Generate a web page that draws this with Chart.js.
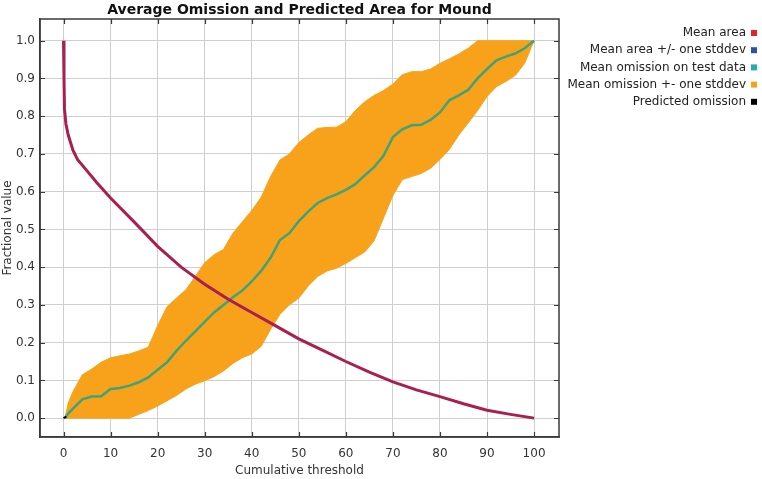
<!DOCTYPE html>
<html lang="en">
<head>
<meta charset="UTF-8">
<title>Average Omission and Predicted Area for Mound</title>
<script src="https://cdn.jsdelivr.net/npm/chart.js"></script>
<style>
    body { margin: 0; background: #ffffff; }
    .wrap { width: 762px; height: 479px; }
</style>
</head>
<body>
<div class="wrap"><canvas id="omissionChart"></canvas></div>
<script>
// tick values
const xTicks = [0, 10, 20, 30, 40, 50, 60, 70, 80, 90, 100];
const yTicks = [0, 0.1, 0.2, 0.3, 0.4, 0.5, 0.6, 0.7, 0.8, 0.9, 1.0];

// mean area (red curve)
const areaX = [0, 0.1, 0.2, 0.5, 1, 2, 3, 5, 7, 10, 15, 20, 25, 30, 35, 40, 45, 50, 55, 60, 65, 70, 75, 80, 85, 90, 95, 100];
const areaY = [1.0, 0.9, 0.82, 0.78, 0.75, 0.71, 0.685, 0.655, 0.625, 0.583, 0.52, 0.455, 0.40, 0.355, 0.315, 0.28, 0.245, 0.21, 0.18, 0.15, 0.122, 0.096, 0.075, 0.057, 0.038, 0.021, 0.01, 0.0];

// omission on test data and its +- one stddev band
const omitX = [0.3, 1, 2, 4, 6, 8, 10, 12, 14, 16, 18, 20, 22, 24, 26, 28, 30, 32, 34, 36, 38, 40, 42, 44, 46, 48, 50,
               52, 54, 56, 58, 60, 62, 64, 66, 68, 70, 72, 74, 76, 78, 80, 82, 84, 86, 88, 90, 92, 94, 96, 98, 100];
const omitMean = [0, 0.012, 0.025, 0.05, 0.057, 0.058, 0.077, 0.08, 0.086, 0.095, 0.108, 0.128, 0.148, 0.178, 0.205, 0.23, 0.255,
                  0.28, 0.30, 0.32, 0.338, 0.362, 0.39, 0.425, 0.472, 0.49, 0.522, 0.547, 0.57, 0.583, 0.593, 0.605, 0.62, 0.643,
                  0.665, 0.695, 0.745, 0.765, 0.776, 0.777, 0.79, 0.81, 0.842, 0.855, 0.87, 0.9, 0.925, 0.948, 0.958, 0.966, 0.98, 1.0];
const omitUpper = [0, 0.04, 0.07, 0.115, 0.13, 0.148, 0.16, 0.165, 0.17, 0.178, 0.188, 0.245, 0.295, 0.318, 0.34, 0.375, 0.412,
                   0.433, 0.447, 0.49, 0.52, 0.55, 0.585, 0.64, 0.684, 0.70, 0.73, 0.75, 0.768, 0.77, 0.771, 0.785, 0.815, 0.838,
                   0.855, 0.868, 0.885, 0.91, 0.918, 0.918, 0.925, 0.94, 0.952, 0.965, 0.98, 1.0, 1.0, 1.0, 1.0, 1.0, 1.0, 1.0];
const omitLower = [0, 0, 0, 0, 0, 0, 0, 0, 0, 0.01, 0.02, 0.032, 0.046, 0.06, 0.077, 0.09, 0.099,
                   0.11, 0.125, 0.145, 0.16, 0.17, 0.19, 0.235, 0.275, 0.30, 0.318, 0.35, 0.375, 0.39, 0.397, 0.41, 0.425, 0.44,
                   0.47, 0.53, 0.59, 0.632, 0.64, 0.648, 0.662, 0.685, 0.712, 0.75, 0.782, 0.815, 0.852, 0.878, 0.892, 0.908, 0.94, 1.0];

// predicted omission (only a tiny piece near the origin)
const predX = [0, 0.6];
const predY = [0, 0.004];

const legendLabels = ['Mean area', 'Mean area +/- one stddev', 'Mean omission on test data', 'Mean omission +- one stddev', 'Predicted omission'];
const legendColors = ['#e8202a', '#3050a0', '#20b0b0', '#f8a21c', '#000000'];

function pts(xs, ys) {
    return xs.map((x, i) => ({ x: x, y: ys[i] }));
}

const FONT = "'DejaVu Sans', Verdana, sans-serif";

// plot frame and small inward tick marks on all four borders
const frameTicks = {
    id: 'frameTicks',
    afterDraw(chart) {
        const ctx = chart.ctx;
        const a = chart.chartArea;
        const xs = chart.scales.x, ys = chart.scales.y;
        ctx.save();
        ctx.strokeStyle = '#3a3a3a';
        ctx.lineWidth = 1.5;
        ctx.strokeRect(a.left, a.top, a.right - a.left, a.bottom - a.top);
        ctx.lineWidth = 1.2;
        ctx.beginPath();
        xTicks.forEach(v => {
            const px = Math.round(xs.getPixelForValue(v)) + 0.5;
            ctx.moveTo(px, a.bottom); ctx.lineTo(px, a.bottom - 5);
            ctx.moveTo(px, a.top); ctx.lineTo(px, a.top + 5);
        });
        yTicks.forEach(v => {
            const py = Math.round(ys.getPixelForValue(v)) + 0.5;
            ctx.moveTo(a.left, py); ctx.lineTo(a.left + 5, py);
            ctx.moveTo(a.right, py); ctx.lineTo(a.right - 5, py);
        });
        ctx.stroke();
        ctx.restore();
    }
};

// legend on the right: text right aligned, colour square after it
const sideLegend = {
    id: 'sideLegend',
    afterDraw(chart) {
        const ctx = chart.ctx;
        ctx.save();
        ctx.font = '12px ' + FONT;
        ctx.textAlign = 'right';
        ctx.textBaseline = 'middle';
        legendLabels.forEach((label, i) => {
            const y = 33 + i * 17.2;
            ctx.fillStyle = '#222';
            ctx.fillText(label, 746, y);
            ctx.fillStyle = legendColors[i];
            ctx.fillRect(751, y - 3, 6, 6);
        });
        ctx.restore();
    }
};

new Chart(document.getElementById('omissionChart'), {
    type: 'line',
    data: {
        datasets: [
            {
                label: 'Mean area',
                data: pts(areaX, areaY),
                borderColor: '#a81f50',
                borderWidth: 3,
                pointRadius: 0,
                order: 0
            },
            {
                label: 'Predicted omission',
                data: pts(predX, predY),
                borderColor: '#000000',
                borderWidth: 2,
                pointRadius: 0,
                order: 1
            },
            {
                label: 'Mean omission on test data',
                data: pts(omitX, omitMean),
                borderColor: '#3fa37a',
                borderWidth: 2.5,
                pointRadius: 0,
                order: 2
            },
            {
                label: 'Mean omission +- one stddev',
                data: pts(omitX, omitUpper),
                borderColor: '#f8a21c',
                backgroundColor: '#f8a21c',
                borderWidth: 1,
                pointRadius: 0,
                fill: '+1',
                order: 3
            },
            {
                label: 'lower',
                data: pts(omitX, omitLower),
                borderColor: '#f8a21c',
                borderWidth: 1,
                pointRadius: 0,
                fill: false,
                order: 4
            }
        ]
    },
    options: {
        responsive: true,
        maintainAspectRatio: false,
        animation: false,
        layout: { padding: { top: 0, right: 203, bottom: 0, left: 0 } },
        plugins: {
            legend: { display: false },
            tooltip: { enabled: false },
            title: {
                display: true,
                text: 'Average Omission and Predicted Area for Mound',
                fullSize: false,
                color: '#111',
                font: { family: FONT, size: 14, weight: 'bold' },
                padding: { top: 1.5, bottom: 0.7 }
            }
        },
        scales: {
            x: {
                type: 'linear',
                min: -5,
                max: 105.3,
                afterBuildTicks: s => { s.ticks = xTicks.map(v => ({ value: v })); },
                afterFit: s => { s.height = 42; },
                border: { color: '#3a3a3a', width: 1.5 },
                grid: { color: '#cfcfcf', lineWidth: 1, drawTicks: false },
                ticks: { color: '#333', padding: 10, font: { family: FONT, size: 12 }, maxRotation: 0 },
                title: {
                    display: true,
                    text: 'Cumulative threshold',
                    color: '#333',
                    font: { family: FONT, size: 12 },
                    padding: { top: 0, bottom: 1 }
                }
            },
            y: {
                min: -0.05,
                max: 1.0575,
                afterBuildTicks: s => { s.ticks = yTicks.map(v => ({ value: v })); },
                afterFit: s => { s.width = 40; },
                border: { color: '#3a3a3a', width: 1.5 },
                grid: { color: '#cfcfcf', lineWidth: 1, drawTicks: false },
                ticks: { color: '#333', padding: 5, font: { family: FONT, size: 12 }, callback: v => v.toFixed(1) },
                title: {
                    display: true,
                    text: 'Fractional value',
                    color: '#333',
                    font: { family: FONT, size: 12 },
                    padding: { top: 1, bottom: 0 }
                }
            }
        }
    },
    plugins: [frameTicks, sideLegend]
});
</script>
</body>
</html>
